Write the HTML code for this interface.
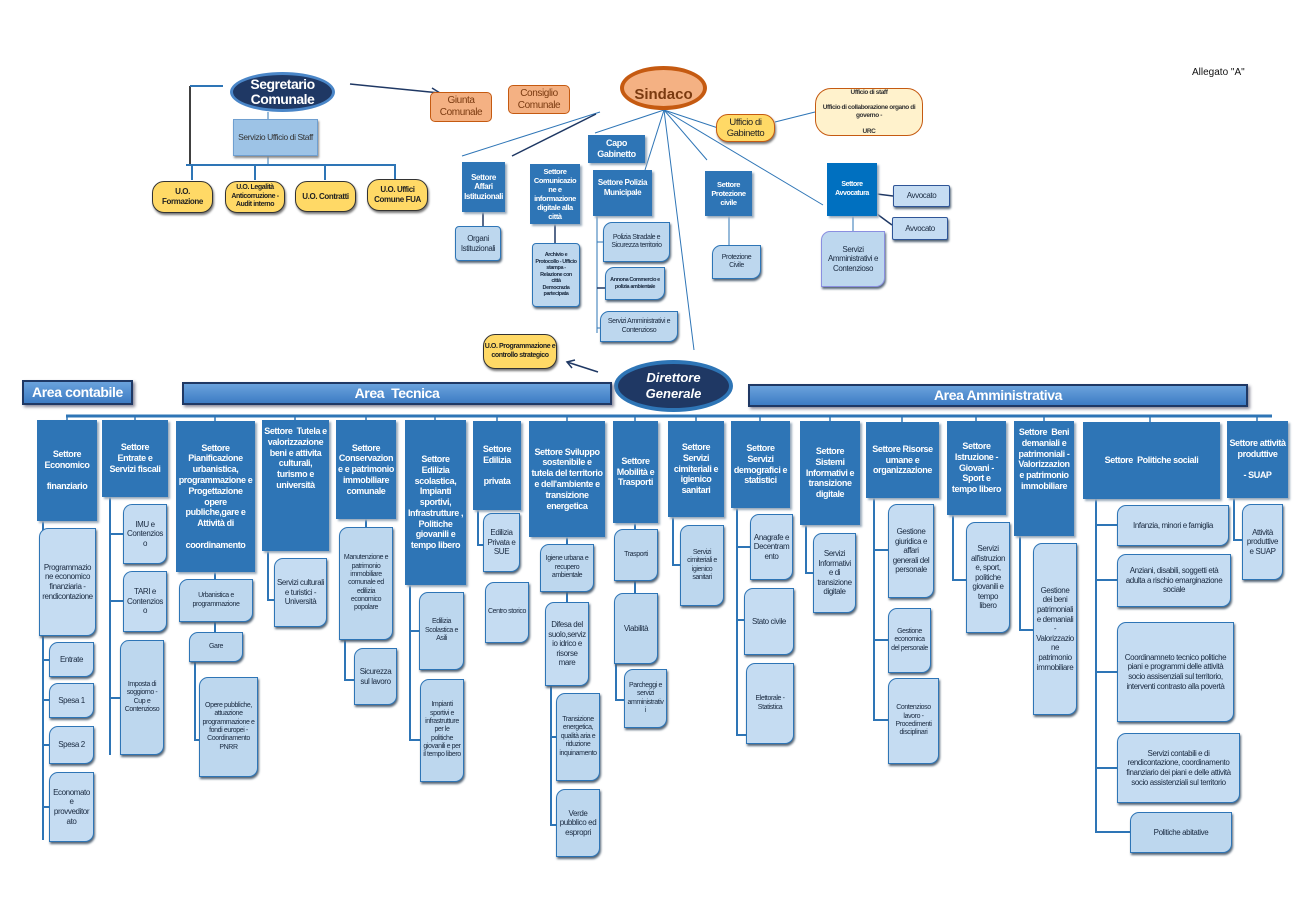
<!DOCTYPE html>
<html><head><meta charset="utf-8"><style>
body{margin:0;width:1315px;height:899px;background:#fff;position:relative;overflow:hidden;font-family:"Liberation Sans",sans-serif;}
.b{position:absolute;display:flex;align-items:center;justify-content:center;text-align:center;box-sizing:border-box;line-height:1.2;letter-spacing:-0.4px;overflow-wrap:anywhere;word-break:break-word;}
.h{background:#2e75b6;color:#fff;font-size:9px;font-weight:bold;box-shadow:2px 2px 2px #9ab;padding:2px;}
.c{background:#c5dcf2;color:#1a2a40;font-size:8px;border:1.5px solid #2e75b6;border-radius:9px 0 9px 0;box-shadow:1px 2px 2px #567;padding:2px;}
.y{background:#ffd966;color:#222;font-size:8px;font-weight:bold;border:1.5px solid #333;border-radius:12px;box-shadow:1px 2px 2px #777;}
.o{background:#f4b183;color:#7a3a10;font-size:10px;border:1.5px solid #c55a11;border-radius:5px;}
.area{background:linear-gradient(#6aa2dc,#3d7cc4);color:#fff;font-weight:bold;font-size:14px;border:2.5px solid #1f3864;box-shadow:2px 2px 3px #889;}
.el{position:absolute;border-radius:50%;display:flex;align-items:center;justify-content:center;text-align:center;box-sizing:border-box;}
svg{position:absolute;left:0;top:0;}
</style></head><body>
<svg width="1315" height="899">
<g stroke="#2e75b6" stroke-width="1" fill="none">
<line x1="190" y1="86" x2="190" y2="165" stroke="#000" stroke-width="1.5"/>
<line x1="190" y1="86" x2="223" y2="86" stroke-width="2"/>
<line x1="186" y1="165" x2="396" y2="165" stroke-width="2"/>
<line x1="192" y1="165" x2="192" y2="180" stroke-width="2"/><line x1="255" y1="165" x2="255" y2="180" stroke-width="2"/>
<line x1="325" y1="165" x2="325" y2="180" stroke-width="2"/><line x1="395" y1="165" x2="395" y2="180" stroke-width="2"/>
<line x1="268" y1="112" x2="268" y2="165"/>
<line x1="350" y1="84" x2="440" y2="93" stroke="#1f3864" stroke-width="1.5"/>
<polyline points="432,88 440,93 432,97" stroke="#1f3864" stroke-width="1.5"/>
<line x1="600" y1="112" x2="462" y2="156"/>
<line x1="596" y1="114" x2="512" y2="156" stroke="#1f3864" stroke-width="1.5"/>
<line x1="664" y1="110" x2="595" y2="133"/>
<line x1="664" y1="110" x2="645" y2="170"/>
<line x1="664" y1="110" x2="707" y2="160"/>
<line x1="664" y1="110" x2="718" y2="128"/>
<line x1="664" y1="110" x2="823" y2="205"/>
<line x1="664" y1="110" x2="694" y2="350"/>
<line x1="775" y1="122" x2="815" y2="112"/>
<line x1="483" y1="212" x2="483" y2="226" stroke="#1f3864" stroke-width="1.5"/>
<line x1="555" y1="224" x2="555" y2="243" stroke="#1f3864" stroke-width="1.5"/>
<line x1="597" y1="216" x2="597" y2="333"/>
<line x1="597" y1="242" x2="603" y2="242"/><line x1="597" y1="288" x2="605" y2="288" stroke="#1f3864" stroke-width="1.5"/><line x1="597" y1="328" x2="600" y2="328"/>
<line x1="729" y1="216" x2="729" y2="245"/>
<line x1="853" y1="213" x2="853" y2="231"/>
<line x1="877" y1="194" x2="893" y2="196" stroke="#1f3864" stroke-width="1.5"/>
<line x1="877" y1="214" x2="892" y2="225" stroke="#1f3864" stroke-width="1.5"/>
<line x1="598" y1="372" x2="567" y2="362" stroke="#1f3864" stroke-width="1.5"/>
<polyline points="575,360 567,362 572,368" stroke="#1f3864" stroke-width="1.5"/>
<line x1="66" y1="416" x2="1272" y2="416" stroke-width="3"/>
<g stroke-width="1.5">
<line x1="67" y1="416" x2="67" y2="420"/><line x1="135" y1="416" x2="135" y2="420"/><line x1="215" y1="416" x2="215" y2="421"/>
<line x1="295" y1="416" x2="295" y2="420"/><line x1="366" y1="416" x2="366" y2="420"/><line x1="435" y1="416" x2="435" y2="420"/>
<line x1="497" y1="416" x2="497" y2="421"/><line x1="567" y1="416" x2="567" y2="421"/><line x1="635" y1="416" x2="635" y2="421"/>
<line x1="696" y1="416" x2="696" y2="421"/><line x1="760" y1="416" x2="760" y2="421"/><line x1="830" y1="416" x2="830" y2="421"/>
<line x1="902" y1="416" x2="902" y2="422"/><line x1="976" y1="416" x2="976" y2="421"/><line x1="1044" y1="416" x2="1044" y2="421"/>
<line x1="1150" y1="416" x2="1150" y2="422"/><line x1="1257" y1="416" x2="1257" y2="421"/>
</g>
<g stroke-width="2">
<path d="M43 521V840M43 660H49M43 700H49M43 745H49M43 807H49"/>
<path d="M110 497V755M110 534H123M110 601H123M110 698H120"/>
<path d="M215 572V579M215 622V632M195 662V740H199"/>
<path d="M268 551V600H274"/>
<path d="M366 519V527M345 640V680H354"/>
<path d="M410 585V740H420M410 631H419"/>
<path d="M478 510V545H483"/>
<path d="M567 537V544M567 592V602M551 686V825H556M551 737H556"/>
<path d="M635 523V529M635 581V593M616 664V700H624"/>
<path d="M673 516V565H680"/>
<path d="M737 508V735H746M737 547H750M737 620H744"/>
<path d="M806 525V573H813"/>
<path d="M874 498V720H888M874 550H888M874 640H888"/>
<path d="M953 515V580H966"/>
<path d="M1020 535V630H1033"/>
<path d="M1096 499V832H1130M1096 525H1117M1096 580H1117M1096 672H1117M1096 768H1117"/>
<path d="M1234 498V540H1242"/>
</g>
</g>
</svg>

<div class="el" style="left:230px;top:72px;width:105px;height:40px;background:#1f3864;border:3px solid #4a86c8;color:#fff;font-weight:bold;font-size:14px;line-height:1.05;letter-spacing:-0.5px;">Segretario<br>Comunale</div>
<div class="b" style="left:233px;top:119px;width:85px;height:37px;background:#9dc3e6;color:#333;font-size:8.5px;border:1px solid #6f9fd0;box-shadow:1px 2px 2px #888;">Servizio Ufficio di Staff</div>
<div class="b y" style="left:152px;top:181px;width:61px;height:32px;">U.O.<br>Formazione</div>
<div class="b y" style="left:225px;top:181px;width:60px;height:32px;font-size:7px;">U.O. Legalità Anticorruzione - Audit interno</div>
<div class="b y" style="left:295px;top:181px;width:61px;height:31px;">U.O. Contratti</div>
<div class="b y" style="left:367px;top:179px;width:61px;height:32px;">U.O. Uffici Comune FUA</div>

<div class="b o" style="left:430px;top:92px;width:62px;height:30px;">Giunta Comunale</div>
<div class="b o" style="left:508px;top:85px;width:62px;height:29px;">Consiglio Comunale</div>
<div class="el" style="left:620px;top:66px;width:87px;height:44px;background:#f4b183;border:4px solid #c55a11;color:#7a3a10;font-weight:bold;font-size:15px;padding-top:12px;">Sindaco</div>
<div class="b y" style="left:716px;top:114px;width:59px;height:28px;font-size:9.5px;font-weight:normal;border-color:#c55a11;">Ufficio di Gabinetto</div>
<div class="b" style="left:815px;top:88px;width:108px;height:48px;background:#fff2cc;border:1.5px solid #c55a11;border-radius:16px;font-size:6.5px;font-weight:bold;color:#333;flex-direction:column;">Ufficio di staff<br><br>Ufficio di collaborazione organo di governo -<br><br>URC</div>
<div class="b h" style="left:588px;top:135px;width:57px;height:28px;">Capo Gabinetto</div>
<div class="b h" style="left:462px;top:162px;width:43px;height:50px;font-size:8px;">Settore Affari Istituzionali</div>
<div class="b c" style="left:455px;top:226px;width:46px;height:35px;border-radius:4px;background:#bdd7ee;">Organi Istituzionali</div>
<div class="b h" style="left:530px;top:164px;width:50px;height:60px;font-size:7.5px;">Settore Comunicazione e informazione digitale alla città</div>
<div class="b c" style="left:532px;top:243px;width:48px;height:64px;font-size:5.5px;font-weight:bold;border-radius:4px;background:#bdd7ee;">Archivio e Protocollo - Ufficio stampa - Relazione con città<br>Democrazia partecipata</div>
<div class="b h" style="left:593px;top:170px;width:59px;height:46px;font-size:8px;align-items:flex-start;padding-top:8px;">Settore Polizia Municipale</div>
<div class="b c" style="left:603px;top:222px;width:67px;height:40px;font-size:7px;background:#bdd7ee;">Polizia Stradale e Sicurezza territorio</div>
<div class="b c" style="left:605px;top:267px;width:60px;height:33px;font-size:5.5px;font-weight:bold;background:#bdd7ee;">Annona Commercio e polizia ambientale</div>
<div class="b c" style="left:600px;top:311px;width:78px;height:31px;font-size:7px;background:#bdd7ee;">Servizi Amministrativi e Contenzioso</div>
<div class="b h" style="left:705px;top:171px;width:47px;height:45px;font-size:7.5px;">Settore Protezione civile</div>
<div class="b c" style="left:712px;top:245px;width:49px;height:34px;font-size:7px;background:#bdd7ee;">Protezione Civile</div>
<div class="b h" style="left:827px;top:163px;width:50px;height:53px;font-size:7px;background:#0070c0;">Settore Avvocatura</div>
<div class="b c" style="left:893px;top:185px;width:57px;height:22px;border-radius:2px;border-color:#2f5597;background:#c5dcf2;">Avvocato</div>
<div class="b c" style="left:892px;top:217px;width:56px;height:23px;border-radius:2px;border-color:#2f5597;background:#c5dcf2;">Avvocato</div>
<div class="b c" style="left:821px;top:231px;width:64px;height:56px;border-color:#8a8fe0;background:#bdd7ee;">Servizi Amministrativi e Contenzioso</div>

<div style="position:absolute;left:1192px;top:67px;font-size:10px;color:#111;">Allegato "A"</div>

<div class="b y" style="left:483px;top:334px;width:74px;height:35px;font-size:7px;">U.O. Programmazione e controllo strategico</div>
<div class="el" style="left:614px;top:360px;width:119px;height:52px;background:#1f3864;border:4px solid #2e75b6;color:#fff;font-weight:bold;font-style:italic;font-size:13px;line-height:1.25;">Direttore<br>Generale</div>

<div class="b area" style="left:22px;top:380px;width:111px;height:25px;">Area contabile</div>
<div class="b area" style="left:182px;top:382px;width:430px;height:23px;">Area &nbsp;Tecnica</div>
<div class="b area" style="left:748px;top:384px;width:500px;height:23px;">Area Amministrativa</div>

<div class="b h" style="left:37px;top:420px;width:60px;height:101px;">Settore Economico<br><br>finanziario</div>
<div class="b h" style="left:102px;top:420px;width:66px;height:77px;">Settore<br>Entrate e Servizi fiscali</div>
<div class="b h" style="left:176px;top:421px;width:79px;height:151px;">Settore Pianificazione urbanistica, programmazione e Progettazione opere publiche,gare e Attività di<br><br>coordinamento</div>
<div class="b h" style="left:262px;top:420px;width:67px;height:131px;align-items:flex-start;padding-top:6px;">Settore &nbsp;Tutela e valorizzazione beni e attivita culturali, turismo e università</div>
<div class="b h" style="left:336px;top:420px;width:60px;height:99px;">Settore Conservazione e patrimonio immobiliare comunale</div>
<div class="b h" style="left:405px;top:420px;width:61px;height:165px;">Settore Edilizia scolastica, Impianti sportivi, Infrastrutture , Politiche giovanili e tempo libero</div>
<div class="b h" style="left:473px;top:421px;width:48px;height:89px;">Settore Edilizia<br><br>privata</div>
<div class="b h" style="left:529px;top:421px;width:76px;height:116px;">Settore Sviluppo sostenibile e tutela del territorio e dell'ambiente e transizione energetica</div>
<div class="b h" style="left:613px;top:421px;width:45px;height:102px;">Settore Mobilità e Trasporti</div>
<div class="b h" style="left:668px;top:421px;width:56px;height:96px;">Settore Servizi cimiteriali e igienico sanitari</div>
<div class="b h" style="left:731px;top:421px;width:59px;height:87px;">Settore Servizi demografici e statistici</div>
<div class="b h" style="left:800px;top:421px;width:60px;height:104px;">Settore Sistemi Informativi e transizione digitale</div>
<div class="b h" style="left:866px;top:422px;width:73px;height:76px;">Settore Risorse umane e organizzazione</div>
<div class="b h" style="left:947px;top:421px;width:59px;height:94px;">Settore Istruzione - Giovani - Sport e tempo libero</div>
<div class="b h" style="left:1014px;top:421px;width:60px;height:115px;align-items:flex-start;padding-top:6px;">Settore &nbsp;Beni demaniali e patrimoniali - Valorizzazion e patrimonio immobiliare</div>
<div class="b h" style="left:1083px;top:422px;width:137px;height:77px;">Settore &nbsp;Politiche sociali</div>
<div class="b h" style="left:1227px;top:421px;width:61px;height:77px;">Settore attività produttive<br><br>- SUAP</div>

<div class="b c" style="left:39px;top:528px;width:57px;height:108px;">Programmazione economico finanziaria - rendicontazione</div>
<div class="b c" style="left:49px;top:642px;width:45px;height:35px;">Entrate</div>
<div class="b c" style="left:49px;top:683px;width:45px;height:35px;">Spesa 1</div>
<div class="b c" style="left:49px;top:726px;width:45px;height:38px;">Spesa 2</div>
<div class="b c" style="left:49px;top:772px;width:45px;height:70px;">Economato e provveditorato</div>
<div class="b c" style="left:123px;top:504px;width:44px;height:60px;">IMU e Contenzioso</div>
<div class="b c" style="left:123px;top:571px;width:44px;height:61px;">TARI e Contenzioso</div>
<div class="b c" style="left:120px;top:640px;width:44px;height:115px;font-size:7px;background:#bdd7ee;">Imposta di soggiorno - Cup e Contenzioso</div>
<div class="b c" style="left:179px;top:579px;width:74px;height:43px;font-size:7px;background:#bdd7ee;">Urbanistica e programmazione</div>
<div class="b c" style="left:189px;top:632px;width:54px;height:30px;font-size:7px;background:#bdd7ee;">Gare</div>
<div class="b c" style="left:199px;top:677px;width:59px;height:100px;font-size:7px;background:#bdd7ee;">Opere pubbliche, attuazione programmazione e fondi europei -<br>Coordinamento PNRR</div>
<div class="b c" style="left:274px;top:558px;width:53px;height:69px;">Servizi culturali e turistici - Università</div>
<div class="b c" style="left:339px;top:527px;width:54px;height:113px;font-size:7px;background:#bdd7ee;">Manutenzione e patrimonio immobiliare comunale ed edilizia economico popolare</div>
<div class="b c" style="left:354px;top:648px;width:43px;height:57px;background:#bdd7ee;">Sicurezza sul lavoro</div>
<div class="b c" style="left:419px;top:592px;width:45px;height:78px;font-size:7px;background:#bdd7ee;">Edilizia Scolastica e Asili</div>
<div class="b c" style="left:420px;top:679px;width:44px;height:103px;font-size:7px;background:#bdd7ee;">Impianti sportivi e infrastrutture per le politiche giovanili e per il tempo libero</div>
<div class="b c" style="left:483px;top:513px;width:37px;height:59px;">Edilizia Privata e SUE</div>
<div class="b c" style="left:485px;top:582px;width:44px;height:61px;font-size:7px;">Centro storico</div>
<div class="b c" style="left:540px;top:544px;width:54px;height:48px;font-size:7px;background:#bdd7ee;">Igiene urbana e recupero ambientale</div>
<div class="b c" style="left:545px;top:602px;width:44px;height:84px;">Difesa del suolo,servizio idrico e risorse mare</div>
<div class="b c" style="left:556px;top:693px;width:44px;height:88px;font-size:7px;background:#bdd7ee;">Transizione energetica, qualità aria e riduzione inquinamento</div>
<div class="b c" style="left:556px;top:789px;width:44px;height:68px;background:#bdd7ee;">Verde pubblico ed espropri</div>
<div class="b c" style="left:614px;top:529px;width:44px;height:52px;font-size:7px;background:#bdd7ee;">Trasporti</div>
<div class="b c" style="left:614px;top:593px;width:44px;height:71px;background:#bdd7ee;">Viabilità</div>
<div class="b c" style="left:624px;top:669px;width:43px;height:59px;font-size:7px;background:#bdd7ee;">Parcheggi e servizi amministrativi</div>
<div class="b c" style="left:680px;top:525px;width:44px;height:81px;font-size:7px;background:#bdd7ee;">Servizi cimiteriali e igienico sanitari</div>
<div class="b c" style="left:750px;top:514px;width:43px;height:66px;">Anagrafe e Decentramento</div>
<div class="b c" style="left:744px;top:588px;width:50px;height:67px;">Stato civile</div>
<div class="b c" style="left:746px;top:663px;width:48px;height:81px;font-size:7px;">Elettorale - Statistica</div>
<div class="b c" style="left:813px;top:533px;width:43px;height:80px;">Servizi Informativi e di transizione digitale</div>
<div class="b c" style="left:888px;top:504px;width:46px;height:94px;">Gestione giuridica e affari generali del personale</div>
<div class="b c" style="left:888px;top:608px;width:43px;height:65px;font-size:7px;">Gestione economica del personale</div>
<div class="b c" style="left:888px;top:678px;width:51px;height:86px;font-size:7px;">Contenzioso lavoro - Procedimenti disciplinari</div>
<div class="b c" style="left:966px;top:522px;width:44px;height:111px;">Servizi all'istruzione, sport, politiche giovanili e tempo libero</div>
<div class="b c" style="left:1033px;top:543px;width:44px;height:172px;">Gestione dei beni patrimoniali e demaniali - Valorizzazione patrimonio immobiliare</div>
<div class="b c" style="left:1117px;top:505px;width:112px;height:41px;">Infanzia, minori e famiglia</div>
<div class="b c" style="left:1117px;top:554px;width:114px;height:53px;">Anziani, disabili, soggetti età adulta a rischio emarginazione sociale</div>
<div class="b c" style="left:1117px;top:622px;width:117px;height:100px;padding:6px;">Coordinamneto tecnico politiche piani e programmi delle attività socio assisenziali sul territorio, interventi contrasto alla povertà</div>
<div class="b c" style="left:1117px;top:733px;width:123px;height:70px;padding:5px;">Servizi contabili e di rendicontazione, coordinamento finanziario dei piani e delle attività socio assistenziali sul territorio</div>
<div class="b c" style="left:1130px;top:812px;width:102px;height:41px;background:#bdd7ee;">Politiche abitative</div>
<div class="b c" style="left:1242px;top:504px;width:41px;height:76px;">Attività produttive e SUAP</div>
</body></html>
